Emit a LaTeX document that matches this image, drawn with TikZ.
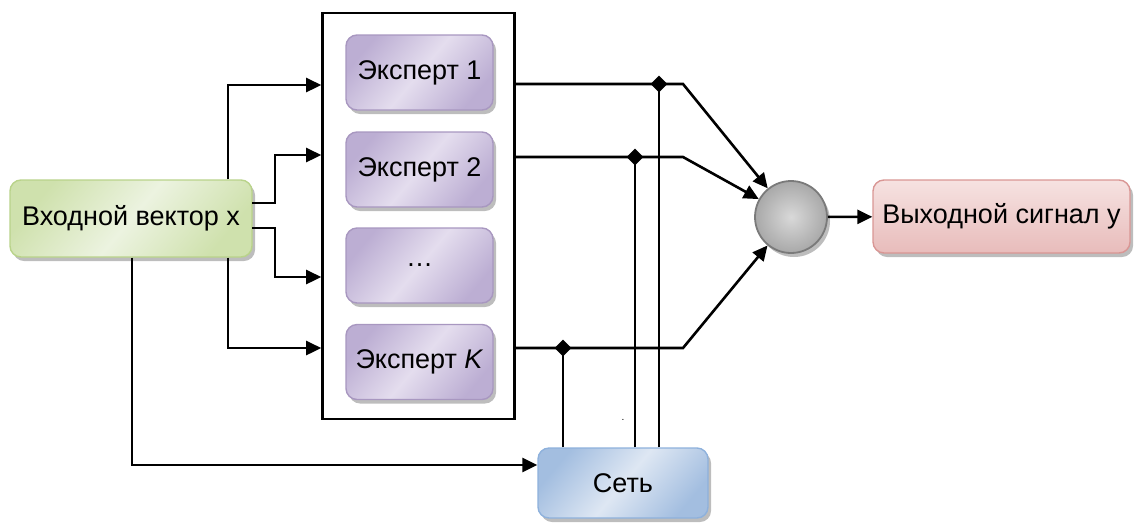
\documentclass[tikz,border=0pt]{standalone}
\usepackage{fontspec}
\setmainfont{Liberation Sans}
\usetikzlibrary{arrows.meta,shapes.geometric,shadows}
\definecolor{gB}{HTML}{B9D38A}
\definecolor{gD}{HTML}{CFE1AD}
\definecolor{gL}{HTML}{ECF3E0}
\definecolor{pB}{HTML}{A897C0}
\definecolor{pD}{HTML}{BCAED3}
\definecolor{pL}{HTML}{E4DDEE}
\definecolor{rB}{HTML}{D99694}
\definecolor{rD}{HTML}{E8BCBB}
\definecolor{rL}{HTML}{F6E2E1}
\definecolor{bB}{HTML}{8EB1DC}
\definecolor{bD}{HTML}{A3BEE0}
\definecolor{bL}{HTML}{DEE7F3}
\definecolor{cB}{HTML}{7A7A7A}
\definecolor{shd}{HTML}{BDBDBD}
\tikzset{
  box/.style={rounded corners=11pt, line width=1.4pt, inner sep=0pt,
    font=\fontsize{27}{32}\selectfont,
    general shadow={fill=shd, shadow xshift=3pt, shadow yshift=-4pt}},
  greenbox/.style={box, draw=gB, left color=gD, right color=gD, middle color=gL, shading angle=50},
  purplebox/.style={box, draw=pB, left color=pD, right color=pD, middle color=pL, shading angle=50,
    minimum width=147pt, minimum height=75pt},
  pinkbox/.style={box, draw=rB, top color=rL, bottom color=rD},
  bluebox/.style={box, draw=bB, left color=bD, right color=bD, middle color=bL, shading angle=50},
  conn/.style={line width=2.6pt, draw=black},
  arr/.style={conn, -{Triangle[length=15pt,width=14pt]}},
  junc/.style={diamond, fill=black, inner sep=0pt, minimum size=17pt},
}
\begin{document}
\begin{tikzpicture}[x=1pt,y=-1pt]
\useasboundingbox (0,0) rectangle (1134,523);
% big rectangle
\node[draw, line width=2.6pt, minimum width=192pt, minimum height=406pt, inner sep=0pt] (big) at (418.5,216) {};
% boxes
\node[greenbox, minimum width=242pt, minimum height=77pt] (in) at (131,218.5) {Входной вектор x};
\node[purplebox] (e1) at (419.5,72.5) {Эксперт 1};
\node[purplebox] (e2) at (419.5,169.5) {Эксперт 2};
\node[purplebox] (e3) at (419.5,265.5) {…};
\node[purplebox] (ek) at (419.5,362) {Эксперт \textit{K}};
\node[pinkbox, minimum width=257pt, minimum height=73pt] (out) at (1001.5,216.5) {Выходной сигнал y};
\node[bluebox, minimum width=170pt, minimum height=70pt] (net) at (623,483) {Сеть};
\node[circle, draw=cB, line width=1.8pt, minimum size=72pt, inner sep=0pt,
  inner color=gray!30, outer color=gray!68,
  general shadow={fill=shd, shadow xshift=3pt, shadow yshift=-4pt}] (sum) at (791,217) {};
% coordinates
\coordinate (i1) at (228,85);
\coordinate (i2) at (275,155);
\coordinate (i3) at (275,277);
\coordinate (i4) at (228,348);
\coordinate (i5) at (132,465);
\coordinate (a2) at (252,203);
\coordinate (a3) at (252,228);
\coordinate (k1) at (683,84);
\coordinate (k2) at (683,157);
\coordinate (k3) at (683,348);
% input connectors
\draw[arr] (in.north -| i1) -- (i1) -- (big.west |- i1);
\draw[arr] (a2) -- (a2 -| i2) -- (i2) -- (big.west |- i2);
\draw[arr] (a3) -- (a3 -| i3) -- (i3) -- (big.west |- i3);
\draw[arr] (in.south -| i4) -- (i4) -- (big.west |- i4);
\draw[arr] (in.south -| i5) -- (i5) -- (net.west |- i5);
% output connectors
\draw[arr] (big.east |- k1) -- (k1) -- (sum);
\draw[arr] (big.east |- k2) -- (k2) -- (sum);
\draw[arr] (big.east |- k3) -- (k3) -- (sum);
\draw[arr] (sum) -- (out);
% junctions and gating lines
\node[junc] (j1) at (659,84) {};
\node[junc] (j2) at (635,157) {};
\node[junc] (j3) at (563,348) {};
\draw[conn] (net.north -| j1) -- (j1.center);
\draw[conn] (net.north -| j2) -- (j2.center);
\draw[conn] (net.north -| j3) -- (j3.center);
\node[font=\fontsize{10}{10}\selectfont, inner sep=0pt] (dot) at (623,420) {.};
\end{tikzpicture}
\end{document}
